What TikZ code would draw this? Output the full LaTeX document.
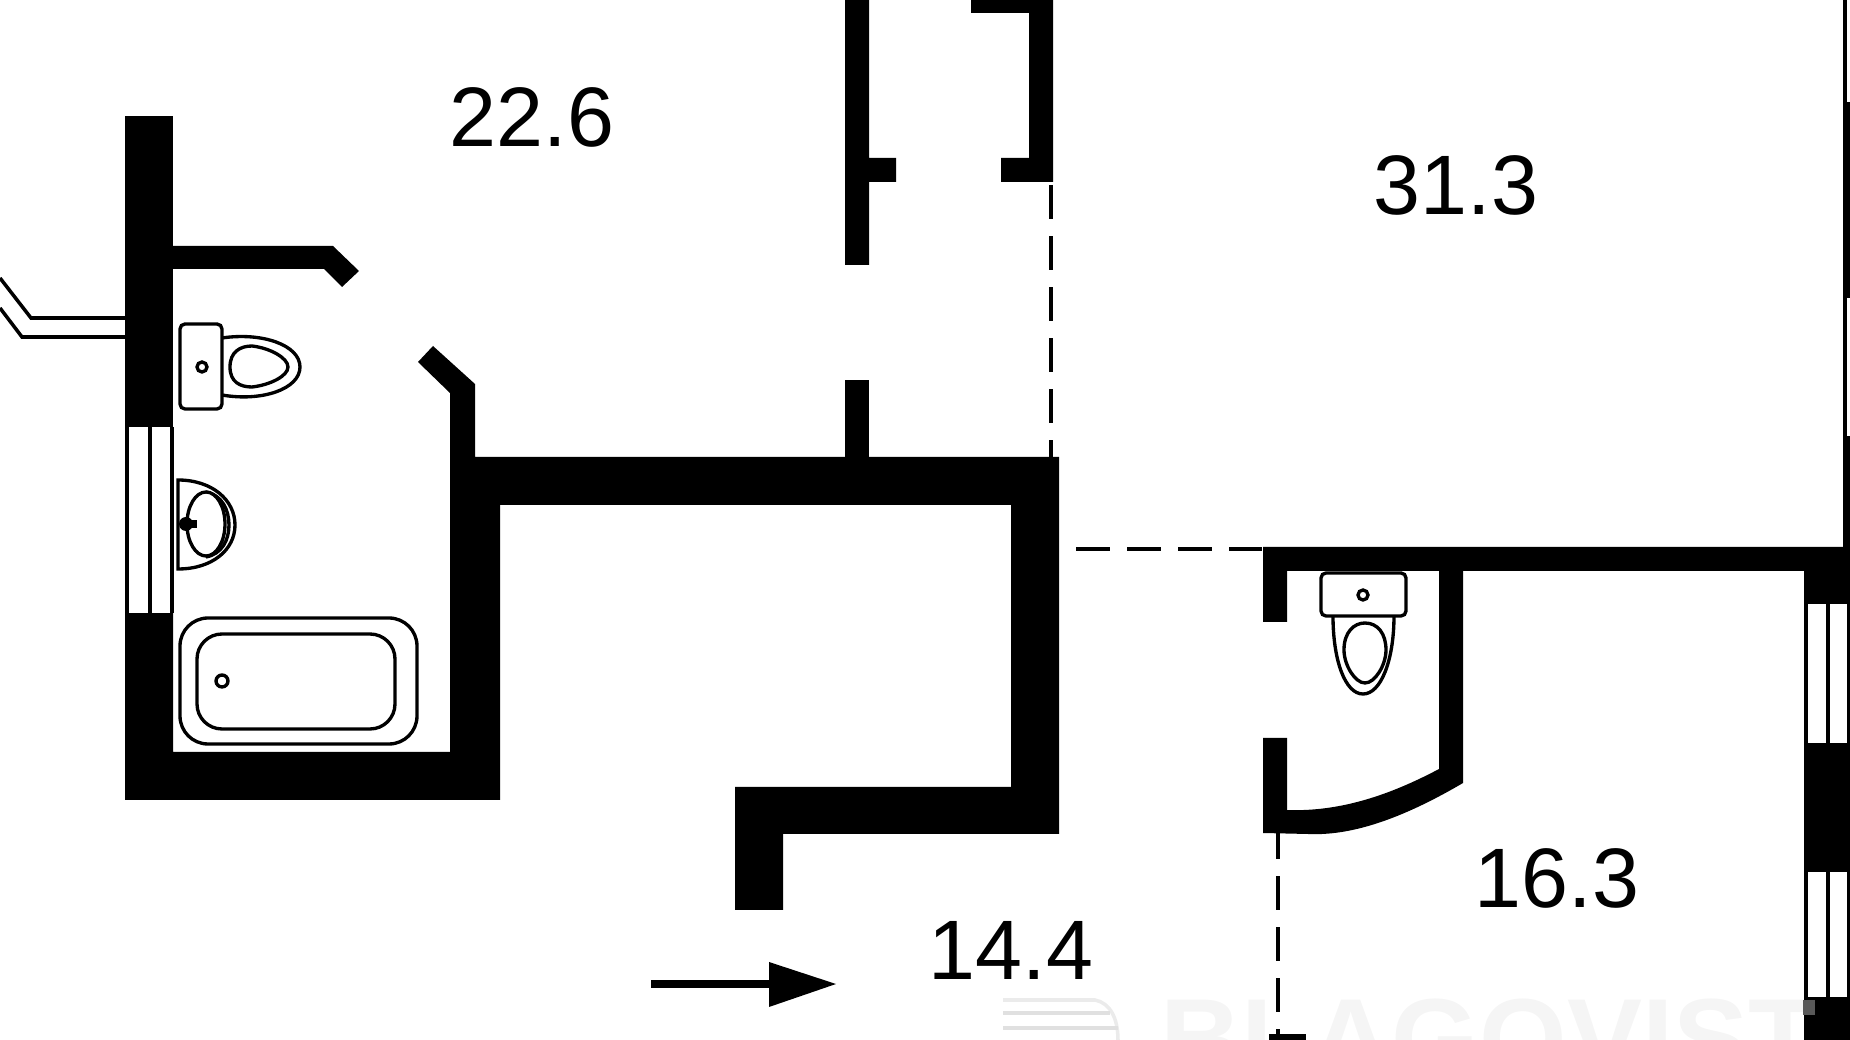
\documentclass[tikz,border=0pt]{standalone}
\usepackage{fontspec}
\setmainfont{Liberation Sans}
\tikzset{
  wall/.style={fill=black},
  fixture/.style={draw=black,line width=0.95pt,fill=white},
  windowline/.style={draw=black,line width=1pt},
  splitline/.style={draw=black,line width=1.1pt,dash pattern=on 3.4mm off 1.7mm},
  arealabel/.style={inner sep=0pt,font=\fontsize{24}{28}\selectfont}
}
\begin{document}
\begin{tikzpicture}[x=0.01cm,y=-0.01cm]
  \useasboundingbox (0,0) rectangle (1850,1040);
  \clip (0,0) rectangle (1850,1040);
  % watermark
  \node[anchor=north west,inner sep=0pt,text=black!4,font=\fontsize{32}{36}\bfseries\selectfont] (stamp) at (1160,998) {BLAGOVIST};
  \draw[black!8,line width=1pt] (1003,1000) -- (1095,1000) .. controls (1110,1003) and (1118,1018) .. (1118,1040);
  \draw[black!12,line width=1pt] (1003,1013) -- (1110,1013);
  \draw[black!12,line width=1pt] (1003,1028) -- (1118,1028);
  % bathroom walls
  \fill[wall] (125,116) -- (173,116) -- (173,427) -- (125,427) -- cycle;
  \fill[wall] (173,246) -- (333,246) -- (359,271) -- (342,287) -- (324,269) -- (173,269) -- cycle;
  \fill[wall] (125,613) -- (173,613) -- (173,752) -- (450,752) -- (450,393) -- (418,362) -- (433,346) -- (475,384) -- (475,457)
    -- (1059,457) -- (1059,834) -- (783,834) -- (783,910) -- (735,910) -- (735,787) -- (1011,787) -- (1011,505) -- (500,505) -- (500,800) -- (125,800) -- cycle;
  % door frames
  \fill[wall] (845,0) -- (869,0) -- (869,158) -- (896,158) -- (896,182) -- (869,182) -- (869,265) -- (845,265) -- cycle;
  \fill[wall] (845,380) rectangle (869,457);
  \fill[wall] (971,0) -- (1053,0) -- (1053,182) -- (1001,182) -- (1001,158) -- (1029,158) -- (1029,13) -- (971,13) -- cycle;
  % small room
  \fill[wall] (1263,547) -- (1843,547) -- (1843,0) -- (1850,0) -- (1850,1040) -- (1804,1040) -- (1804,571) -- (1463,571) -- (1463,783)
    .. controls (1400,820) and (1350,836) .. (1308,834) -- (1263,833) -- (1263,738) -- (1287,738) -- (1287,810)
    .. controls (1340,812) and (1390,795) .. (1439,769) -- (1439,571) -- (1287,571) -- (1287,622) -- (1263,622) -- cycle;
  \fill[wall] (1269,1034) rectangle (1306,1040);
  \fill[black!65] (1803,1000) rectangle (1815,1015);
  % windows
  \fill[white] (127,427) rectangle (172,613);
  \fill[white] (1806,604) rectangle (1850,743);
  \fill[white] (1806,872) rectangle (1850,997);
  \fill[white] (1847,0) rectangle (1850,102);
  \fill[white] (1847,298) rectangle (1850,436);
  \foreach \x in {127,150,172} {
    \draw[windowline] (\x,427) -- (\x,613);
  }
  \foreach \x in {1806,1828,1849} {
    \draw[windowline] (\x,604) -- (\x,743);
    \draw[windowline] (\x,872) -- (\x,997);
  }
  % balcony rail
  \draw[windowline] (0,278) -- (31,318) -- (125,318);
  \draw[windowline] (0,308) -- (22,337) -- (125,337);
  % room borders
  \draw[splitline] (1051,185) -- (1051,457);
  \draw[splitline] (1076,549) -- (1262,549);
  \draw[splitline] (1278,825) -- (1278,1034);
  % toilet
  \draw[fixture] (222,338) .. controls (262,332) and (300,345) .. (300,367) .. controls (300,389) and (262,402) .. (222,395);
  \draw[fixture] (230,367) .. controls (230,352) and (240,346) .. (252,346) .. controls (270,348) and (288,358) .. (288,367)
    .. controls (288,376) and (270,385) .. (252,387) .. controls (240,387) and (230,382) .. (230,367) -- cycle;
  \draw[fixture,rounded corners=0.5mm] (180,324) rectangle (222,409);
  \draw[fixture] (202,367) circle (5);
  % basin
  \draw[fixture] (178,480) .. controls (212,480) and (235,500) .. (235,525) .. controls (235,550) and (212,569) .. (178,569) -- cycle;
  \draw[fixture] (206,492) .. controls (222,495) and (229,510) .. (229,525) .. controls (229,540) and (222,554) .. (206,557);
  \draw[fixture] (206,524) ellipse (19 and 32);
  \fill (186,524) circle (7);
  \draw[line width=2pt] (180,524) -- (197,524);
  % bath
  \draw[fixture,rounded corners=2.8mm] (180,618) rectangle (417,744);
  \draw[fixture,rounded corners=2.5mm] (197,634) rectangle (395,729);
  \draw[fixture] (222,681) circle (6);
  % second toilet
  \draw[fixture] (1333,616) .. controls (1333,660) and (1345,694) .. (1363,694) .. controls (1381,694) and (1394,660) .. (1394,616);
  \draw[fixture] (1344,650) .. controls (1344,632) and (1354,623) .. (1365,623) .. controls (1378,623) and (1386,634) .. (1386,650)
    .. controls (1386,665) and (1375,683) .. (1365,683) .. controls (1355,683) and (1344,665) .. (1344,650) -- cycle;
  \draw[fixture,rounded corners=0.5mm] (1321,573) rectangle (1406,616);
  \draw[fixture] (1363,595) circle (5);
  % entrance arrow
  \coordinate (enter) at (651,984);
  \coordinate (entertip) at (769,984);
  \draw[line width=2.3pt] (enter) -- (entertip);
  \fill (769,962) -- (836,984) -- (769,1007) -- cycle;
  % areas
  \node[arealabel] (hall) at (532,117) {22.6};
  \node[arealabel] (living) at (1456,185) {31.3};
  \node[arealabel] (kitchen) at (1557,878) {16.3};
  \node[arealabel] (lobby) at (1011,950) {14.4};
\end{tikzpicture}
\end{document}
